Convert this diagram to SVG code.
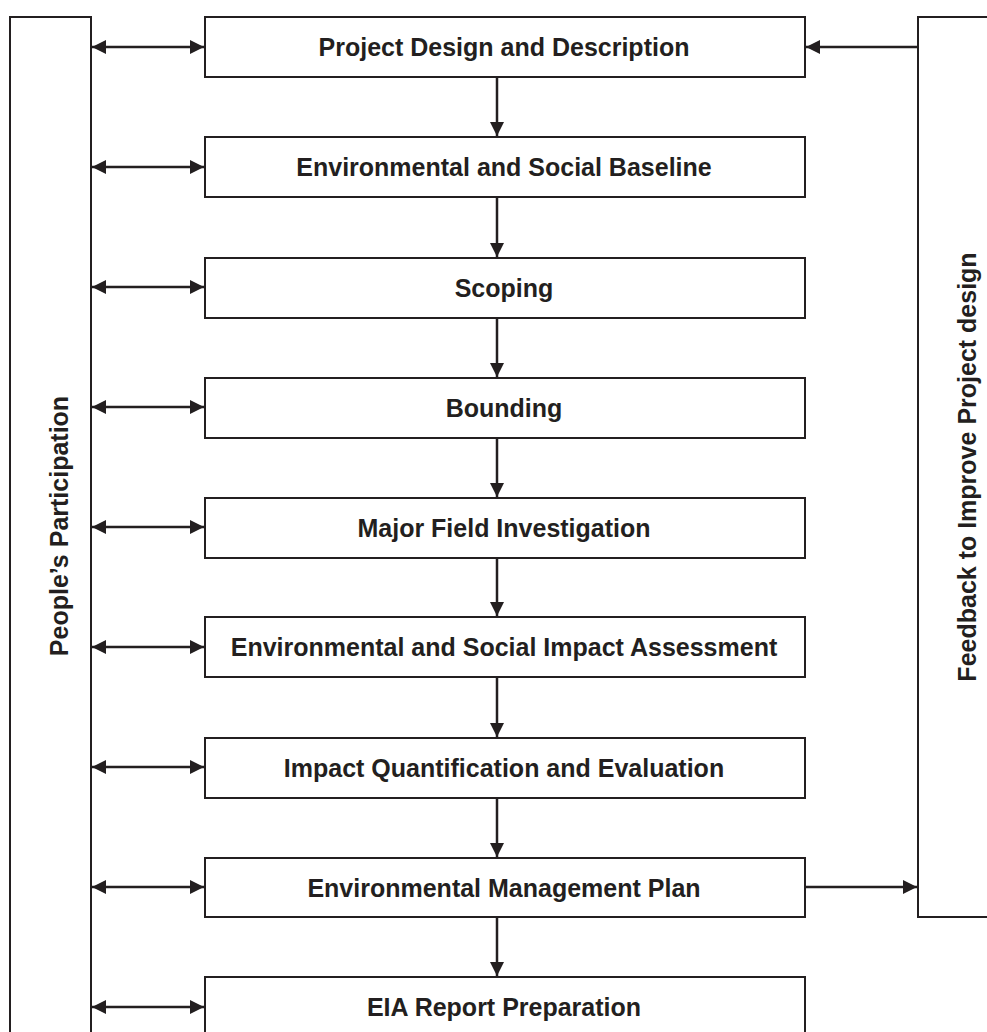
<svg xmlns="http://www.w3.org/2000/svg" width="987" height="1032" viewBox="0 0 987 1032">
<style>
.box{fill:#fff;stroke:#231f20;stroke-width:2}
.t{font-family:"Liberation Sans",Arial,sans-serif;font-weight:bold;font-size:25px;fill:#231f20;text-anchor:middle}
.c{stroke:#231f20;stroke-width:2.5;fill:none}
</style>
<defs>
<marker id="ah" viewBox="0 0 10 10" refX="10" refY="5" markerWidth="14" markerHeight="14" markerUnits="userSpaceOnUse" orient="auto-start-reverse">
<path d="M0,0 L10,5 L0,10 z" fill="#231f20"/>
</marker>
</defs>
<g id="people"><rect class="box" x="10" y="17" width="81" height="1030"/>
<text class="t" transform="translate(68,526) rotate(-90)">People’s Participation</text></g>
<g id="feedback"><rect class="box" x="918" y="17" width="80" height="900"/>
<text class="t" transform="translate(976,467) rotate(-90)">Feedback to Improve Project design</text></g>
<g id="n1"><rect class="box" x="205" y="17" width="600" height="60"/><text class="t" x="504" y="56">Project Design and Description</text></g>
<g id="n2"><rect class="box" x="205" y="137" width="600" height="60"/><text class="t" x="504" y="176">Environmental and Social Baseline</text></g>
<g id="n3"><rect class="box" x="205" y="258" width="600" height="60"/><text class="t" x="504" y="297">Scoping</text></g>
<g id="n4"><rect class="box" x="205" y="378" width="600" height="60"/><text class="t" x="504" y="417">Bounding</text></g>
<g id="n5"><rect class="box" x="205" y="498" width="600" height="60"/><text class="t" x="504" y="537">Major Field Investigation</text></g>
<g id="n6"><rect class="box" x="205" y="617" width="600" height="60"/><text class="t" x="504" y="656">Environmental and Social Impact Assessment</text></g>
<g id="n7"><rect class="box" x="205" y="738" width="600" height="60"/><text class="t" x="504" y="777">Impact Quantification and Evaluation</text></g>
<g id="n8"><rect class="box" x="205" y="858" width="600" height="59"/><text class="t" x="504" y="897">Environmental Management Plan</text></g>
<g id="n9"><rect class="box" x="205" y="977" width="600" height="70"/><text class="t" x="504" y="1016">EIA Report Preparation</text></g>
<g id="connectors">
<path class="c" d="M92,47H204" marker-start="url(#ah)" marker-end="url(#ah)"/>
<path class="c" d="M92,167H204" marker-start="url(#ah)" marker-end="url(#ah)"/>
<path class="c" d="M92,287H204" marker-start="url(#ah)" marker-end="url(#ah)"/>
<path class="c" d="M92,407H204" marker-start="url(#ah)" marker-end="url(#ah)"/>
<path class="c" d="M92,527H204" marker-start="url(#ah)" marker-end="url(#ah)"/>
<path class="c" d="M92,647H204" marker-start="url(#ah)" marker-end="url(#ah)"/>
<path class="c" d="M92,767H204" marker-start="url(#ah)" marker-end="url(#ah)"/>
<path class="c" d="M92,887H204" marker-start="url(#ah)" marker-end="url(#ah)"/>
<path class="c" d="M92,1007H204" marker-start="url(#ah)" marker-end="url(#ah)"/>
<path class="c" d="M497,77V136" marker-end="url(#ah)"/>
<path class="c" d="M497,197V257" marker-end="url(#ah)"/>
<path class="c" d="M497,318V377" marker-end="url(#ah)"/>
<path class="c" d="M497,438V497" marker-end="url(#ah)"/>
<path class="c" d="M497,558V616" marker-end="url(#ah)"/>
<path class="c" d="M497,677V737" marker-end="url(#ah)"/>
<path class="c" d="M497,798V857" marker-end="url(#ah)"/>
<path class="c" d="M497,917V976" marker-end="url(#ah)"/>
<path class="c" d="M917,47H806" marker-end="url(#ah)"/>
<path class="c" d="M806,887H917" marker-end="url(#ah)"/>
</g>
</svg>
